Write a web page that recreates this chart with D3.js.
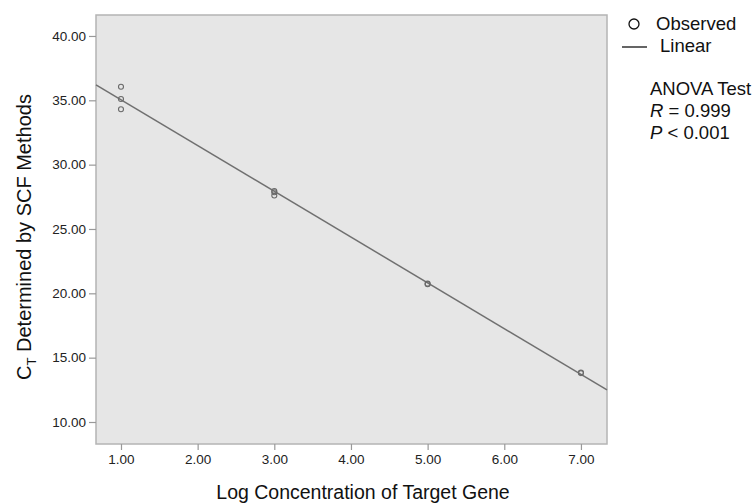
<!DOCTYPE html>
<html>
<head>
<meta charset="utf-8">
<script src="https://cdn.jsdelivr.net/npm/d3@7"></script>
<style>
  body { margin: 0; background: #fff; }
  svg { display: block; font-family: "Liberation Sans", Arial, sans-serif; }
</style>
</head>
<body>
<div id="chart"></div>
<script>
// Observed values (log concentration vs CT)
const logConc = [1, 1, 1, 3, 3, 3, 5, 5, 7, 7];
const ctValues = [36.05, 35.1, 34.3, 27.95, 27.85, 27.6, 20.75, 20.7, 13.85, 13.8];
const xTicks = [1, 2, 3, 4, 5, 6, 7];
const yTicks = [10, 15, 20, 25, 30, 35, 40];
const statsLines = ['ANOVA Test', ['R', ' = 0.999'], ['P', ' < 0.001']];

const width = 754;
const height = 503;
const margin = { top: 15, right: 147, bottom: 59, left: 96 };

const svg = d3.select('#chart')
    .append('svg')
    .attr('width', width)
    .attr('height', height);

const x = d3.scaleLinear()
    .domain([0.674, 7.34])
    .range([margin.left, width - margin.right]);

const y = d3.scaleLinear()
    .domain([8.29, 41.63])
    .range([height - margin.bottom, margin.top]);

// Plot background
svg.append('rect')
    .attr('x', margin.left)
    .attr('y', margin.top)
    .attr('width', width - margin.left - margin.right)
    .attr('height', height - margin.top - margin.bottom)
    .attr('fill', '#e6e6e6')
    .attr('stroke', '#b4b4b4')
    .attr('stroke-width', 1.5);

// Axes
const xAxis = svg.append('g')
    .attr('transform', `translate(0, ${height - margin.bottom})`)
    .call(d3.axisBottom(x).tickValues(xTicks).tickFormat(d3.format('.2f')).tickSize(6).tickPadding(4));

const yAxis = svg.append('g')
    .attr('transform', `translate(${margin.left}, 0)`)
    .call(d3.axisLeft(y).tickValues(yTicks).tickFormat(d3.format('.2f')).tickSize(7).tickPadding(3));

[xAxis, yAxis].forEach(g => {
    g.select('.domain').remove();
    g.selectAll('line').attr('stroke', '#999').attr('stroke-width', 1.2);
    g.selectAll('text')
        .attr('fill', '#222')
        .style('font-size', '13.5px')
        .style('font-family', '"Liberation Sans", Arial, sans-serif');
});

// Least squares fit line
const n = logConc.length;
const mx = d3.mean(logConc);
const my = d3.mean(ctValues);
let sxy = 0, sxx = 0;
for (let i = 0; i < n; i++) {
    sxy += (logConc[i] - mx) * (ctValues[i] - my);
    sxx += (logConc[i] - mx) ** 2;
}
const slope = sxy / sxx;
const intercept = my - slope * mx;
const [x0, x1] = x.domain();

svg.append('line')
    .attr('x1', x(x0))
    .attr('y1', y(intercept + slope * x0))
    .attr('x2', x(x1))
    .attr('y2', y(intercept + slope * x1))
    .attr('stroke', '#707070')
    .attr('stroke-width', 1.5);

// Observed points
svg.selectAll('circle.obs')
    .data(logConc.map((d, i) => ({ x: d, y: ctValues[i] })))
    .enter()
    .append('circle')
    .attr('class', 'obs')
    .attr('cx', d => x(d.x))
    .attr('cy', d => y(d.y))
    .attr('r', 2.5)
    .attr('fill', 'none')
    .attr('stroke', '#6a6a6a')
    .attr('stroke-width', 1.1);

// Axis titles
svg.append('text')
    .attr('x', 363)
    .attr('y', 499)
    .attr('text-anchor', 'middle')
    .style('font-size', '19.5px')
    .attr('fill', '#111')
    .text('Log Concentration of Target Gene');

const yTitle = svg.append('text')
    .attr('transform', 'translate(31, 237) rotate(-90)')
    .attr('text-anchor', 'middle')
    .style('font-size', '20px')
    .attr('fill', '#111');
yTitle.append('tspan').text('C');
yTitle.append('tspan').attr('dy', 5).style('font-size', '13px').text('T');
yTitle.append('tspan').attr('dy', -5).text(' Determined by SCF Methods');

// Legend
const legend = svg.append('g').style('font-size', '18.5px').attr('fill', '#111');
legend.append('circle')
    .attr('cx', 634).attr('cy', 24).attr('r', 5)
    .attr('fill', 'none').attr('stroke', '#111').attr('stroke-width', 1.3);
legend.append('text').attr('x', 656).attr('y', 30).text('Observed');
legend.append('line')
    .attr('x1', 622).attr('x2', 647).attr('y1', 47).attr('y2', 47)
    .attr('stroke', '#111').attr('stroke-width', 1.3);
legend.append('text').attr('x', 660).attr('y', 52).text('Linear');

statsLines.forEach((line, i) => {
    const t = legend.append('text').attr('x', 650).attr('y', 95 + i * 22);
    if (typeof line === 'string') {
        t.text(line);
    } else {
        t.append('tspan').style('font-style', 'italic').text(line[0]);
        t.append('tspan').text(line[1]);
    }
});
</script>
</body>
</html>
